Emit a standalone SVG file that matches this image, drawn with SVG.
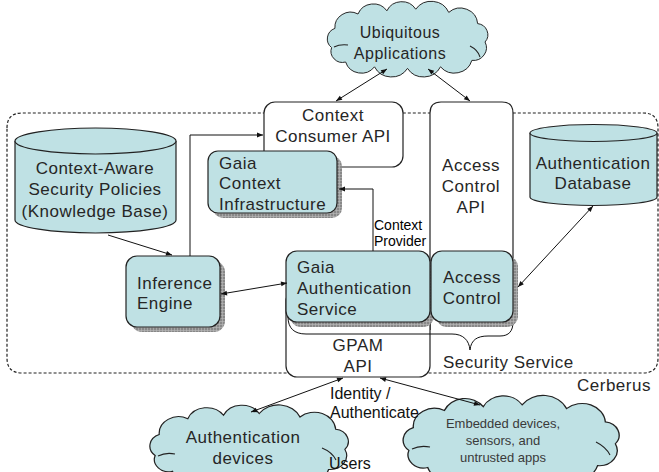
<svg xmlns="http://www.w3.org/2000/svg" width="659" height="472" viewBox="0 0 659 472">
<defs>
<style>
.t{font-family:"Liberation Sans",Arial,sans-serif;font-size:17px;letter-spacing:0.5px;fill:#262626}
.tm{text-anchor:middle}
.lbl{font-family:"Liberation Sans",Arial,sans-serif;font-size:16px;fill:#111}
.sm{font-family:"Liberation Sans",Arial,sans-serif;font-size:14px;fill:#000}
.emb{font-family:"Liberation Sans",Arial,sans-serif;font-size:13px;fill:#3a3a3a;text-anchor:middle}
.box{fill:#fff;stroke:#222;stroke-width:1.2}
.node{fill:#bfe1e4;stroke:#222;stroke-width:1.2}
.shadow{fill:url(#grid)}
.cyl{fill:#bfe1e4;stroke:#222;stroke-width:1.2}
.cloud{fill:#bfe1e4;stroke:#222;stroke-width:1.2}
.inner{fill:none;stroke:#222;stroke-width:1.1}
.con{fill:none;stroke:#111;stroke-width:1}
</style>
<pattern id="grid" width="3" height="3" patternUnits="userSpaceOnUse">
<rect width="3" height="3" fill="#888"/>
<path d="M0,0.5 H3 M0.5,0 V3" stroke="#bbb" stroke-width="0.6"/>
</pattern>
<marker id="ah" viewBox="0 0 10 10" refX="10" refY="5" markerWidth="7" markerHeight="6" markerUnits="userSpaceOnUse" orient="auto-start-reverse">
<path d="M0,1 L10,5 L0,9 z" fill="#111"/>
</marker>
<path id="cloudShape" d="M8,52 A14,14 0 0 1 12,28 A19,19 0 0 1 40,10 A20,20 0 0 1 75,6 A20,20 0 0 1 110,4 A23,23 0 0 1 150,8 A21,21 0 0 1 185,22 A14,14 0 0 1 194,45 A16,16 0 0 1 178,68 A22,22 0 0 1 140,76 A23,23 0 0 1 100,78 A23,23 0 0 1 60,76 A20,20 0 0 1 25,70 A14,14 0 0 1 8,52 Z"/>
</defs>

<!-- Cerberus boundary -->
<g id="cerberus">
<path d="M7,128 Q7,113 22,113 H643 Q658,113 658,128 V358 Q658,373 643,373 H22 Q7,373 7,358 Z" fill="none" stroke="#222" stroke-width="1.2" stroke-dasharray="3,2"/>
<text class="t" x="577" y="391">Cerberus</text>
</g>

<!-- API boxes -->
<g id="context-consumer-api">
<rect class="box" x="264" y="102" width="139" height="65" rx="11"/>
<text class="t tm" x="333" y="121">Context</text>
<text class="t tm" x="333" y="142">Consumer API</text>
</g>
<g id="access-control-api">
<path class="box" d="M430,330 V113 Q430,102 441,102 H502 Q513,102 513,113 V325"/>
<text class="t tm" x="471" y="171">Access</text>
<text class="t tm" x="471" y="192">Control</text>
<text class="t tm" x="471" y="213">API</text>
</g>
<g id="gpam-api">
<rect class="box" x="286" y="290" width="144" height="87" rx="11"/>
<text class="t tm" x="358" y="351">GPAM</text>
<text class="t tm" x="358" y="372">API</text>
</g>
<g id="security-service">
<path class="con" stroke-width="1.2" d="M288,317 C288,328 294,334 306,334 H452 C463,334 469,340 470,350 C471,340 477,336 488,336 H500 C509,336 513,331 513,322"/>
<text class="t" x="443" y="368">Security Service</text>
</g>

<!-- Teal nodes -->
<g id="gaia-context-infrastructure">
<rect class="shadow" x="213" y="156" width="129" height="62" rx="10"/>
<rect class="node" x="208" y="151" width="129" height="62" rx="10"/>
<text class="t" x="219" y="169">Gaia</text>
<text class="t" x="219" y="189">Context</text>
<text class="t" x="219" y="210">Infrastructure</text>
</g>
<g id="inference-engine">
<rect class="shadow" x="131" y="261" width="94" height="71" rx="11"/>
<rect class="node" x="126" y="256" width="94" height="71" rx="11"/>
<text class="t" x="137" y="289">Inference</text>
<text class="t" x="137" y="309">Engine</text>
</g>
<g id="gaia-authentication-service">
<rect class="shadow" x="290" y="256" width="144" height="71" rx="11"/>
<rect class="node" x="286" y="251" width="144" height="71" rx="11"/>
<text class="t" x="297" y="273">Gaia</text>
<text class="t" x="297" y="294">Authentication</text>
<text class="t" x="297" y="315">Service</text>
</g>
<g id="access-control">
<rect class="shadow" x="436" y="256" width="82" height="71" rx="11"/>
<rect class="node" x="431" y="251" width="82" height="71" rx="11"/>
<text class="t tm" x="472" y="283">Access</text>
<text class="t tm" x="472" y="304">Control</text>
</g>

<!-- Cylinders -->
<g id="context-aware-policies">
<path class="cyl" d="M15,141 V220 A80.5,13 0 0 0 176,220 V141"/>
<ellipse class="cyl" cx="95.5" cy="141" rx="80.5" ry="13"/>
<text class="t tm" x="95" y="174">Context-Aware</text>
<text class="t tm" x="95" y="195">Security Policies</text>
<text class="t tm" x="95" y="217">(Knowledge Base)</text>
</g>
<g id="authentication-database">
<path class="cyl" d="M530,133 V197 A63.5,8.5 0 0 0 657,197 V133"/>
<ellipse class="cyl" cx="593.5" cy="133" rx="63.5" ry="8.5"/>
<text class="t tm" x="593" y="169">Authentication</text>
<text class="t tm" x="593" y="189">Database</text>
</g>

<!-- Clouds -->
<g id="ubiquitous-applications">
<use href="#cloudShape" class="cloud" transform="translate(325,6) scale(0.825,0.8)" style="vector-effect:non-scaling-stroke"/>
<path class="inner" d="M334,47 Q340,44 348,45"/>
<path class="inner" d="M470,46 Q478,50 480,57"/>
<text class="t tm" x="400" y="38" style="font-size:16px">Ubiquitous</text>
<text class="t tm" x="400" y="59" style="font-size:16px">Applications</text>
</g>
<g id="authentication-devices">
<use href="#cloudShape" class="cloud" transform="translate(147,410) scale(1.02,0.875)" style="vector-effect:non-scaling-stroke"/>
<path class="inner" d="M158,456 Q166,452 175,454"/>
<path class="inner" d="M322,448 Q332,452 336,460"/>
<text class="t tm" x="243" y="443">Authentication</text>
<text class="t tm" x="243" y="464">devices</text>
</g>
<g id="embedded-devices">
<use href="#cloudShape" class="cloud" transform="translate(400,401) scale(1.11,0.95)" style="vector-effect:non-scaling-stroke"/>
<path class="inner" d="M412,449 Q420,445 430,447"/>
<path class="inner" d="M596,442 Q606,447 610,455"/>
<text class="emb" x="503" y="428">Embedded devices,</text>
<text class="emb" x="503" y="445">sensors, and</text>
<text class="emb" x="503" y="462">untrusted apps</text>
</g>

<!-- Connectors -->
<g id="connectors">
<line class="con" x1="387" y1="69" x2="336" y2="101" marker-start="url(#ah)" marker-end="url(#ah)"/>
<line class="con" x1="428" y1="69" x2="470" y2="101" marker-start="url(#ah)" marker-end="url(#ah)"/>
<line class="con" x1="108" y1="235" x2="172" y2="255" marker-end="url(#ah)"/>
<path class="con" d="M190,256 V135 H263" marker-end="url(#ah)"/>
<line class="con" x1="221" y1="294" x2="287" y2="283" marker-start="url(#ah)" marker-end="url(#ah)"/>
<path class="con" d="M373,251 V189 H339" marker-end="url(#ah)"/>
<line class="con" x1="593" y1="206" x2="518" y2="287" marker-start="url(#ah)" marker-end="url(#ah)"/>
<line class="con" x1="343" y1="378" x2="251" y2="412" marker-start="url(#ah)" marker-end="url(#ah)"/>
<line class="con" x1="380" y1="378" x2="480" y2="405" marker-start="url(#ah)" marker-end="url(#ah)"/>
</g>

<!-- Labels -->
<g id="labels">
<text class="sm" x="374" y="230">Context</text>
<text class="sm" x="374" y="246">Provider</text>
<text class="lbl" x="330" y="399">Identity /</text>
<text class="lbl" x="330" y="418">Authenticate</text>
<text class="lbl" x="329" y="469">Users</text>
</g>
</svg>
